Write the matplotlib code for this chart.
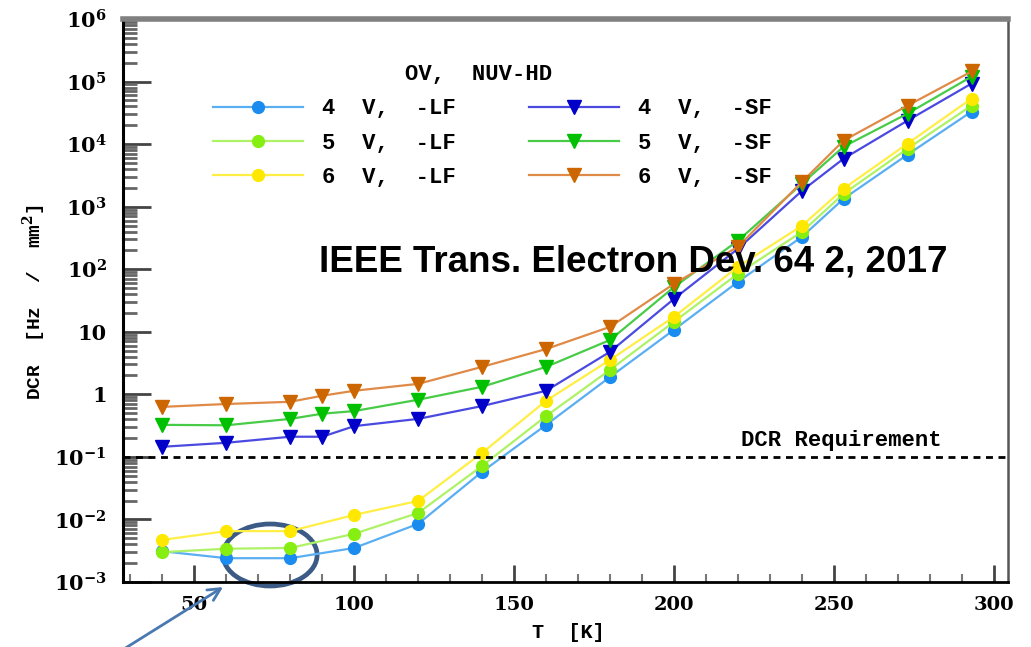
"""DCR versus temperature for NUV-HD SiPMs (LF and SF variants) on a log scale."""

import math

import matplotlib.pyplot as plt
from matplotlib.patches import Ellipse, FancyArrowPatch
from matplotlib.ticker import FuncFormatter, LogLocator, MultipleLocator, NullFormatter

plt.rcParams["mathtext.fontset"] = "dejavuserif"

# temperatures [K]
temps_lf = [40, 60, 80, 100, 120, 140, 160, 180, 200, 220, 240, 253, 273, 293]
temps_sf = [40, 60, 80, 90, 100, 120, 140, 160, 180, 200, 220, 240, 253, 273, 293]

# dark count rate [Hz / mm^2]
dcr_lf4 = [0.0031, 0.0024, 0.0024, 0.0035, 0.0085, 0.058, 0.325, 1.9, 10.8, 63, 331, 1340, 6800, 33100]
dcr_lf5 = [0.0030, 0.0034, 0.0035, 0.0059, 0.0127, 0.072, 0.45, 2.47, 14.5, 85, 398, 1610, 8470, 41300]
dcr_lf6 = [0.0047, 0.0065, 0.0065, 0.0118, 0.0198, 0.116, 0.79, 3.56, 17.4, 110, 497, 1940, 10200, 53500]
dcr_sf4 = [0.145, 0.168, 0.21, 0.21, 0.31, 0.405, 0.65, 1.14, 4.8, 33.7, 213, 1800, 5860, 23800, 93000]
dcr_sf5 = [0.325, 0.32, 0.405, 0.49, 0.54, 0.82, 1.32, 2.75, 7.4, 52, 286, 2335, 9120, 30800, 120000]
dcr_sf6 = [0.63, 0.70, 0.76, 0.95, 1.14, 1.47, 2.75, 5.3, 12, 58.6, 229, 2500, 11400, 41300, 145000]

dcr_requirement = 0.1

labels_lf = ["4  V,  -LF", "5  V,  -LF", "6  V,  -LF"]
labels_sf = ["4  V,  -SF", "5  V,  -SF", "6  V,  -SF"]

# (line colour, marker colour)
colors_lf = [("#5aaef2", "#1a8cf0"), ("#aef266", "#86ee10"), ("#ffee44", "#ffe800")]
colors_sf = [("#4a4ae0", "#0000c8"), ("#48cc48", "#00c000"), ("#e08a48", "#cc6600")]

fig = plt.figure(figsize=(10.31, 6.47), dpi=100)
ax = fig.add_axes([0.1196, 0.1005, 0.8581, 0.8701])

handles = []
for vals, (lc, mc), lab in zip([dcr_lf4, dcr_lf5, dcr_lf6], colors_lf, labels_lf):
    (h,) = ax.plot(temps_lf, vals, color=lc, lw=1.6, marker="o", ms=8.5,
                   mfc=mc, mec=mc, label=lab)
    handles.append(h)
for vals, (lc, mc), lab in zip([dcr_sf4, dcr_sf5, dcr_sf6], colors_sf, labels_sf):
    (h,) = ax.plot(temps_sf, vals, color=lc, lw=1.6, marker="v", ms=10,
                   mfc=mc, mec=mc, label=lab)
    handles.append(h)

ax.axhline(dcr_requirement, color="black", lw=2, ls=(0, (2.5, 2.0)))
ax.text(221, 0.18, "DCR Requirement", family="Liberation Mono", weight="bold",
        fontsize=16, va="center", ha="left")

ax.set_yscale("log")
ax.set_xlim(27.8, 304.4)
ax.set_ylim(1e-3, 1e6)

ax.xaxis.set_major_locator(MultipleLocator(50))
ax.xaxis.set_minor_locator(MultipleLocator(10))
ax.yaxis.set_major_locator(LogLocator(base=10, numticks=20))
ax.yaxis.set_minor_locator(LogLocator(base=10, subs=range(2, 10), numticks=20))
ax.yaxis.set_minor_formatter(NullFormatter())


def decade_label(v, pos):
    e = int(round(math.log10(v)))
    if e == 0:
        return "1"
    if e == 1:
        return "10"
    return r"$\mathbf{10^{%d}}$" % e


ax.yaxis.set_major_formatter(FuncFormatter(decade_label))

ax.tick_params(axis="y", which="major", direction="in", length=20, width=2,
               color="#444444", pad=12, labelsize=15)
ax.tick_params(axis="y", which="minor", direction="in", length=10, width=2,
               color="#666666")
ax.tick_params(axis="x", which="major", direction="in", length=12, width=2,
               color="#444444", pad=10, labelsize=14)
ax.tick_params(axis="x", which="minor", direction="in", length=6, width=1.5,
               color="#777777")
for lab in ax.get_xticklabels() + ax.get_yticklabels():
    lab.set_family("DejaVu Serif")
    lab.set_weight("bold")

ax.spines["left"].set_linewidth(2.2)
ax.spines["bottom"].set_linewidth(2.0)
ax.spines["top"].set_linewidth(4.0)
ax.spines["top"].set_color("#808080")
ax.spines["right"].set_linewidth(1.8)
ax.spines["right"].set_color("#555555")

leg = ax.legend(handles=handles, ncol=2, frameon=False, title="OV,  NUV-HD  ",
                prop={"family": "Liberation Mono", "weight": "bold", "size": 16},
                handlelength=4.05, handletextpad=0.85, columnspacing=3.3,
                labelspacing=0.6, borderpad=0, borderaxespad=0,
                loc="upper left", bbox_to_anchor=(213 / 1031, 1 - 64 / 647),
                bbox_transform=fig.transFigure)
leg.get_title().set_family("Liberation Mono")
leg.get_title().set_weight("bold")
leg.get_title().set_fontsize(16)

fig.text(0.309, 1 - 262 / 647, "IEEE Trans. Electron Dev. 64 2, 2017",
         family="Liberation Sans", weight="bold",
         fontsize=26.5, ha="left", va="center")

fig.text(568 / 1031, 1 - 633 / 647, "T  [K]", family="Liberation Mono",
         weight="bold", fontsize=14.5, ha="center", va="center")
fig.text(34 / 1031, 1 - 302 / 647, "DCR  [Hz  /  mm$^\\mathbf{2}$]",
         family="Liberation Mono", weight="bold", fontsize=14,
         rotation=90, ha="center", va="center")

# highlight the 60-80 K LF points and point at them
fig.canvas.draw()
cx, cy = ax.transAxes.inverted().transform(ax.transData.transform((73.7, 2.7e-3)))
ax.add_patch(Ellipse((cx, cy), 94 / 885, 62 / 563, transform=ax.transAxes,
                     fill=False, ec="#3b5a85", lw=3.4, clip_on=False))
tip = fig.transFigure.inverted().transform(ax.transData.transform((59, 8.3e-4)))
fig.add_artist(FancyArrowPatch((122 / 1031, -0.005), tuple(tip),
                               transform=fig.transFigure, arrowstyle="->",
                               color="#4a78b0", lw=2, mutation_scale=22,
                               shrinkA=0, shrinkB=0))

fig.savefig("out.png", dpi=100)
